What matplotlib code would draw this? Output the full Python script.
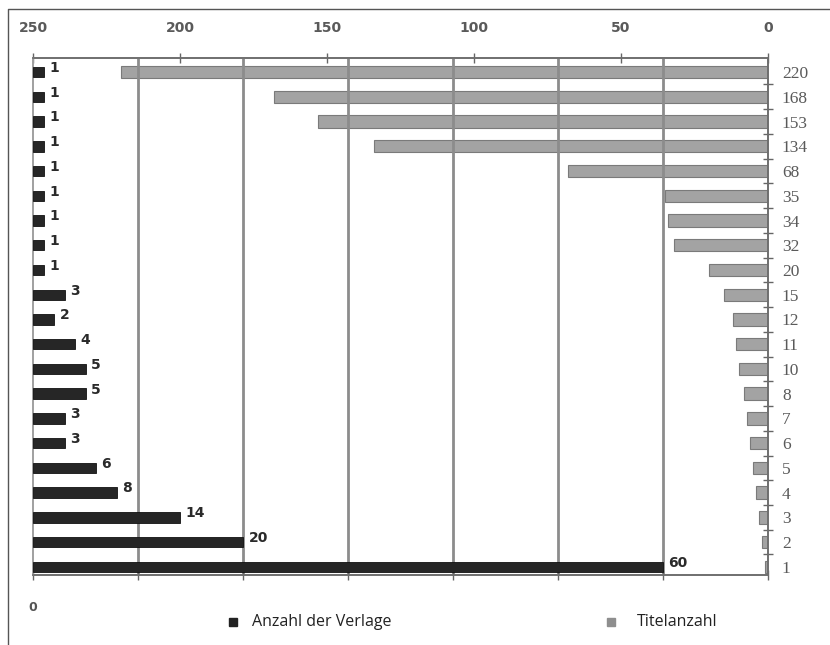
import numpy as np
import matplotlib
matplotlib.use('Agg')
import matplotlib.pyplot as plt
from matplotlib.lines import Line2D

# Titelanzahl (categories, also gray bar values) and Anzahl der Verlage (black bars)
titel = [220, 168, 153, 134, 68, 35, 34, 32, 20, 15, 12, 11, 10, 8, 7, 6, 5, 4, 3, 2, 1]
verlage = [1, 1, 1, 1, 1, 1, 1, 1, 1, 3, 2, 4, 5, 5, 3, 3, 6, 8, 14, 20, 60]
titel_labels = [str(t) for t in titel]
top_ticks = [250, 200, 150, 100, 50, 0]
bottom_ticks = [0, 10, 20, 30, 40, 50, 60, 70]

fig = plt.figure(figsize=(8.3, 6.45), dpi=100)
ax = fig.add_axes([33 / 830, 1 - 575 / 645, (768 - 33) / 830, (575 - 58) / 645])

y = np.arange(len(titel))

# black bars on the bottom axis (0..70)
ax.barh(y, verlage, height=0.42, color='#262626', edgecolor='#111111', linewidth=0.6, zorder=3)
ax.set_xlim(0, 70)
ax.set_ylim(len(titel) - 1 + 0.33, -0.57)
ax.set_xticks(bottom_ticks)
ax.set_xticklabels(['0'] + [''] * (len(bottom_ticks) - 1))
ax.tick_params(axis='x', direction='inout', length=7, width=1, color='#666666', pad=15,
               labelsize=9, labelcolor='#555555')
for lbl in ax.get_xticklabels():
    lbl.set_fontweight('bold')
for v in bottom_ticks[1:-1]:
    ax.axvline(v, color='#8c8c8c', linewidth=2, zorder=1)

for yi, v in zip(y, verlage):
    ax.annotate(str(v), (v, yi), xytext=(4, 3), textcoords='offset points',
                ha='left', va='center', fontsize=10, fontweight='bold', color='#2a2a2a', zorder=5)

# categories on the right side
ax.yaxis.tick_right()
ax.set_yticks(y)
ax.set_yticklabels(titel_labels, family='Liberation Serif', fontsize=12.5, color='#5a5a5a')
ax.set_yticks(y[:-1] + 0.5, minor=True)
ax.tick_params(axis='y', which='major', length=0, pad=10)
ax.tick_params(axis='y', which='minor', direction='inout', length=7, width=1, color='#666666')

# gray bars on the top axis (250..0)
ax2 = ax.twiny()
ax2.barh(y, titel, height=0.5, color='#a3a3a3', edgecolor='#7a7a7a', linewidth=0.8, zorder=2)
ax2.set_xlim(250, 0)
ax2.set_xticks(top_ticks)
ax2.set_xticklabels([str(t) for t in top_ticks], fontsize=10, fontweight='bold', color='#5a5a5a')
ax2.tick_params(axis='x', direction='inout', length=7, width=1, color='#666666', pad=13)
ax.set_zorder(ax2.get_zorder() + 1)
ax.patch.set_visible(False)
ax2.set_facecolor('#e4e4e4')

for a in (ax, ax2):
    a.spines['top'].set_color('#6e6e6e')
    a.spines['bottom'].set_color('#6e6e6e')
    a.spines['right'].set_color('#6e6e6e')
    a.spines['left'].set_color('#a0a0a0')
    for s in a.spines.values():
        s.set_linewidth(1.2)

# legend
fig.add_artist(Line2D([233 / 830], [1 - 622 / 645], marker='s', markersize=6, color='#222222',
                      linestyle='none', transform=fig.transFigure))
fig.text(252 / 830, 1 - 622 / 645, 'Anzahl der Verlage', family='Open Sans', fontsize=11.5,
         color='#222222', va='center', ha='left')
fig.add_artist(Line2D([611 / 830], [1 - 622 / 645], marker='s', markersize=6, color='#8e8e8e',
                      linestyle='none', transform=fig.transFigure))
fig.text(637 / 830, 1 - 622 / 645, 'Titelanzahl', family='Open Sans', fontsize=11.5,
         color='#222222', va='center', ha='left')

# outer frame (top and left)
fig.add_artist(Line2D([8 / 830, 8 / 830, 1], [0, 1 - 9 / 645, 1 - 9 / 645], color='#555555',
                      linewidth=1, transform=fig.transFigure))

fig.savefig('out.png', dpi=100)
